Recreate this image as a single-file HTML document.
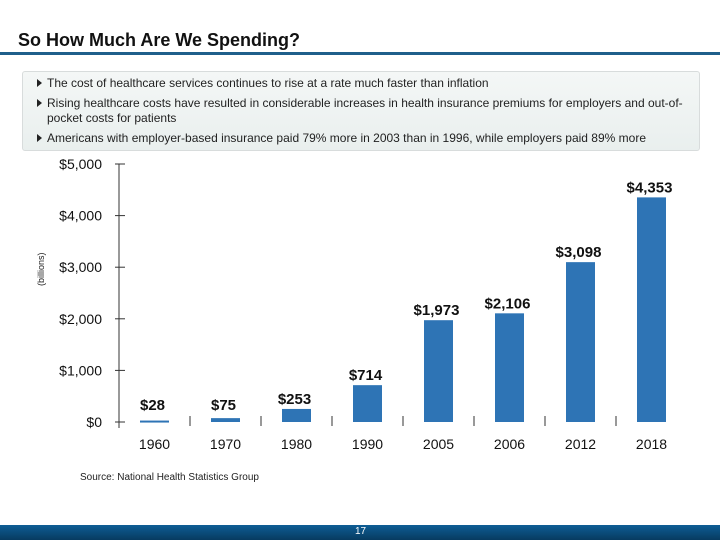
<!DOCTYPE html>
<html><head><meta charset="utf-8"><style>
body{margin:0;width:720px;height:540px;position:relative;background:#fff;font-family:"Liberation Sans",Arial,sans-serif;overflow:hidden}
.abs{position:absolute}
#title{left:18px;top:30px;font-size:18px;font-weight:bold;color:#111}
#rule{left:0;top:52px;width:720px;height:3px;background:#1f5f8b}
#box{left:22px;top:71px;width:676px;height:78px;border:1px solid #d8dcdc;border-radius:3px;background:linear-gradient(#f4f7f6,#e9efee)}
.b{position:absolute;left:24px;font-size:12px;color:#222;line-height:15px}
.b:before{content:"";position:absolute;left:-10px;top:3px;border-left:5px solid #222;border-top:4px solid transparent;border-bottom:4px solid transparent}
#footer{left:0;top:525px;width:720px;height:15px;background:linear-gradient(#0e5d95,#073b60)}
#pg{left:355px;top:526px;font-size:10px;color:#fff}
#src{left:80px;top:472px;font-size:10px;color:#222}
</style></head><body>
<div class="abs" id="title">So How Much Are We Spending?</div>
<div class="abs" id="rule"></div>
<div class="abs" id="box">
<div class="b" style="top:4px;white-space:nowrap">The cost of healthcare services continues to rise at a rate much faster than inflation</div>
<div class="b" style="top:24px;width:645px">Rising healthcare costs have resulted in considerable increases in health insurance premiums for employers and out-of-<br>pocket costs for patients</div>
<div class="b" style="top:59px;white-space:nowrap">Americans with employer-based insurance paid 79% more in 2003 than in 1996, while employers paid 89% more</div>
</div>
<svg class="abs" style="left:0;top:0" width="720" height="540" id="chart"></svg>
<div class="abs" id="src">Source: National Health Statistics Group</div>
<div class="abs" id="footer"></div>
<div class="abs" id="pg">17</div>
<script>
const categories=["1960","1970","1980","1990","2005","2006","2012","2018"];
const values=[28,75,253,714,1973,2106,3098,4353];
const valueLabels=["$28","$75","$253","$714","$1,973","$2,106","$3,098","$4,353"];
const yTicks=[0,1000,2000,3000,4000,5000];
const yTickLabels=["$0","$1,000","$2,000","$3,000","$4,000","$5,000"];
const NS="http://www.w3.org/2000/svg";
const svg=document.getElementById('chart');
const x0=119,band=71,y0=422,yTop=164,maxV=5000;
const y=v=>y0-(v/maxV)*(y0-yTop);
const xc=i=>x0+band*(i+0.5);
function mk(t,a){const e=document.createElementNS(NS,t);for(const k in a)e.setAttribute(k,a[k]);svg.appendChild(e);return e;}
let ax=mk('line',{x1:x0,y1:yTop,x2:x0,y2:y0+6,stroke:'#333','stroke-width':1});


yTicks.forEach((v,i)=>{
 let t=mk('line',{x1:x0-4,x2:x0+6,y1:y(v),y2:y(v),stroke:'#333'});
 
 
 let l=mk('text',{x:102,y:y(v)+5,'text-anchor':'end','font-size':14,fill:'#111','font-family':'Liberation Sans'});
 l.textContent=yTickLabels[i];
 
 
});
let yt=mk('text',{x:0,y:0,transform:'translate(44,'+(y(3000)+2)+') rotate(-90)','text-anchor':'middle','font-size':9,fill:'#222','font-family':'Liberation Sans'});
yt.textContent='(billions)';


categories.forEach((c,i)=>{
 if(i>0){let t=mk('line',{x1:x0+band*i,x2:x0+band*i,y1:y0-6,y2:y0+4,stroke:'#333'});
  
  }
 let b=mk('rect',{x:xc(i)-14.5,y:y(values[i]),width:29,height:Math.max(y0-y(values[i]),2),fill:'#2e74b5'});
 
 
 let ly=Math.min(y(values[i])-11,404);
 let vl=mk('text',{x:xc(i)-2,y:ly+6,'text-anchor':'middle','font-size':15,'font-weight':'bold',fill:'#111','font-family':'Liberation Sans'});
 vl.textContent=valueLabels[i];
 
 
 let xl=mk('text',{x:xc(i),y:449,'text-anchor':'middle','font-size':14,fill:'#111','font-family':'Liberation Sans'});
 xl.textContent=c;
 
 
});
</script>
</body></html>
